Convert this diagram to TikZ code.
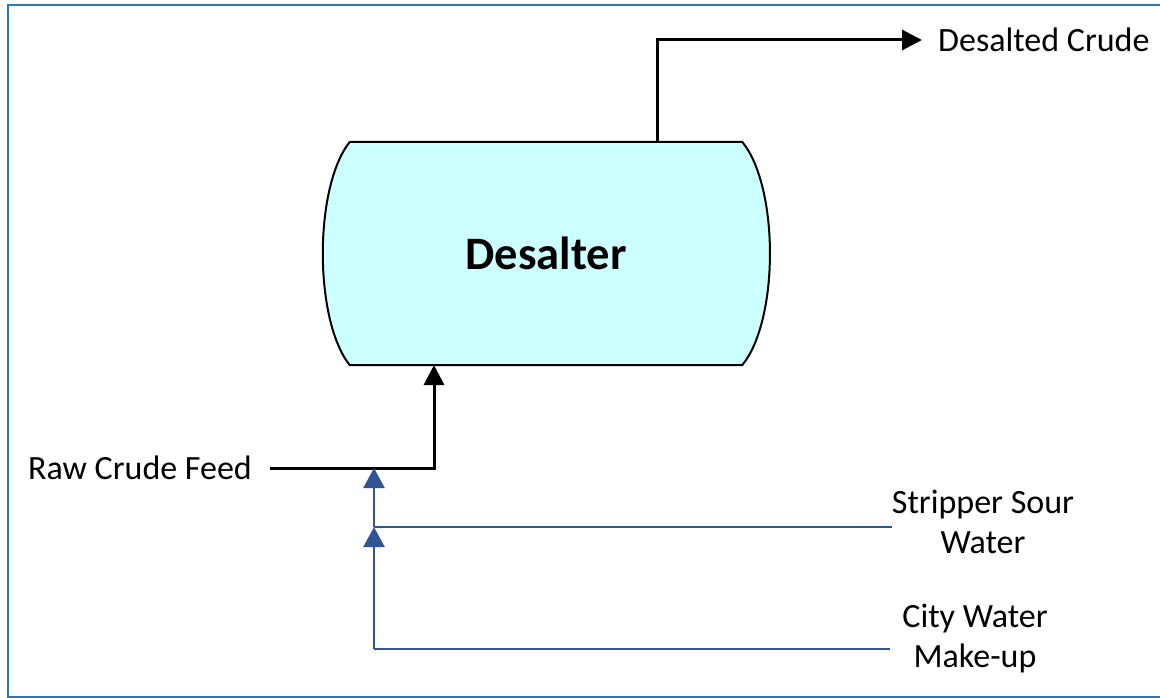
\documentclass[tikz,border=0pt]{standalone}
\usepackage{fontspec}
\setmainfont{Carlito}
\usetikzlibrary{arrows.meta,backgrounds}
\definecolor{vesselfill}{HTML}{CCFFFF}
\definecolor{waterblue}{HTML}{2F5597}
\definecolor{frameblue}{HTML}{2E75B6}
\begin{document}
\begin{tikzpicture}[x=1pt,y=-1pt,
    lbl/.style={font=\fontsize{34}{40}\selectfont,align=center,inner sep=0pt},
    crude/.style={line width=3pt,-{Triangle[length=20pt,width=20pt]}},
    water/.style={waterblue,line width=2.4pt,-{Triangle[length=20pt,width=21pt]}},
    waterline/.style={waterblue,line width=2.4pt}]
  \useasboundingbox (0,0) rectangle (1160,698);
  \draw[frameblue,line width=2.4pt] (1175,5) -- (8,5) -- (8,697) -- (1175,697);
  % vessel
  \node[minimum width=392pt,minimum height=223pt,inner sep=0pt,
        font=\fontsize{46.5}{54}\selectfont\bfseries] (des) at (546,253.5) {Desalter};
  \begin{scope}[on background layer]
    \draw[fill=vesselfill,line width=2pt] (des.north west) -- (des.north east)
      .. controls +(37,45) and +(37,-45) .. (des.south east) -- (des.south west)
      .. controls +(-36,-45) and +(-36,45) .. (des.north west);
  \end{scope}
  % streams
  \node[lbl,anchor=west] (dcrude) at (938,40) {Desalted Crude};
  \node[lbl,anchor=east] (raw) at (252,468) {Raw Crude Feed};
  \node[lbl] (ssw) at (983,522) {Stripper Sour\\Water};
  \node[lbl] (cw) at (975,639) {City Water\\Make-up};
  \coordinate (outlet) at (657,142);
  \coordinate (inlet) at (434,365);
  \coordinate (j1) at (374,527);
  \coordinate (j2) at (374,649);
  \coordinate (cwin) at (890,649);
  \draw[crude] (outlet) |- ([xshift=-16pt]dcrude.west);
  \draw[crude] ([xshift=18pt]raw.east) -| (inlet);
  % water make-up
  \draw[water] (j1) -- (j1 |- raw.east);
  \draw[water] (j2) -- (j1);
  \draw[waterline] (j1) -- (j1 -| ssw.west);
  \draw[waterline] (j2) -- (cwin);
\end{tikzpicture}
\end{document}
